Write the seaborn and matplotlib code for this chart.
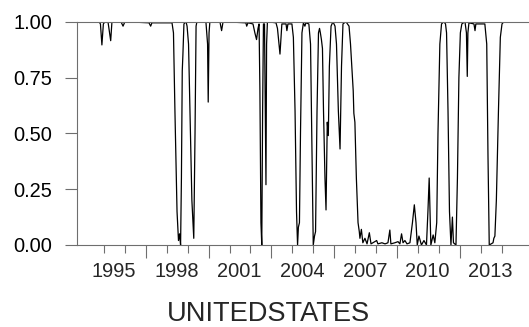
import matplotlib
matplotlib.use("Agg")
import matplotlib.pyplot as plt
import seaborn as sns
import pandas as pd

# smoothed regime probability (decimal years)
years = [1993.72, 1994.76, 1994.83, 1994.90, 1994.97, 1995.05, 1995.19, 1995.32, 1995.38,
         1995.81, 1995.91, 1996.00, 1997.15, 1997.23, 1997.29, 1998.25, 1998.32, 1998.39,
         1998.49, 1998.56, 1998.61, 1998.66, 1998.70, 1998.74, 1998.77, 1998.82, 1998.92,
         1998.97, 1999.04, 1999.11, 1999.20, 1999.29, 1999.35, 1999.40, 1999.44, 1999.87,
         1999.95, 1999.98, 2000.02, 2000.06, 2000.54, 2000.62, 2000.69, 2001.78, 2001.82,
         2001.88, 2002.12, 2002.21, 2002.29, 2002.36, 2002.41, 2002.45, 2002.50, 2002.54,
         2002.58, 2002.62, 2002.67, 2002.72, 2002.74, 2002.77, 2002.81, 2003.22, 2003.29,
         2003.36, 2003.41, 2003.46, 2003.50, 2003.70, 2003.74, 2003.79, 2003.98, 2004.05,
         2004.13, 2004.20, 2004.25, 2004.29, 2004.34, 2004.39, 2004.46, 2004.53, 2004.60,
         2004.65, 2004.79, 2004.87, 2004.94, 2005.00, 2005.06, 2005.11, 2005.18, 2005.25,
         2005.30, 2005.34, 2005.39, 2005.44, 2005.49, 2005.56, 2005.61, 2005.67, 2005.72,
         2005.77, 2005.85, 2005.94, 2006.04, 2006.11, 2006.20, 2006.28, 2006.35, 2006.42,
         2006.56, 2006.71, 2006.78, 2006.87, 2006.91, 2006.94, 2006.99, 2007.06, 2007.14,
         2007.20, 2007.23, 2007.30, 2007.37, 2007.47, 2007.57, 2007.68, 2007.76, 2007.85,
         2008.03, 2008.09, 2008.28, 2008.43, 2008.57, 2008.66, 2008.71, 2008.90, 2009.05,
         2009.14, 2009.22, 2009.29, 2009.38, 2009.48, 2009.62, 2009.74, 2009.83, 2009.91,
         2009.97, 2010.05, 2010.17, 2010.29, 2010.41, 2010.48, 2010.54, 2010.59, 2010.62,
         2010.73, 2010.81, 2010.90, 2010.96, 2011.05, 2011.13, 2011.24, 2011.32, 2011.37,
         2011.44, 2011.51, 2011.58, 2011.65, 2011.70, 2011.82, 2011.89, 2011.96, 2012.03,
         2012.10, 2012.25, 2012.32, 2012.36, 2012.39, 2012.44, 2012.68, 2012.73, 2012.77,
         2013.20, 2013.29, 2013.35, 2013.41, 2013.59, 2013.63, 2013.68, 2013.75, 2013.85,
         2013.94, 2014.02, 2014.11]
prob = [1.0, 1.0, 0.99, 0.896, 0.99, 1.0, 1.0, 0.915, 1.0,
        1.0, 0.98, 1.0, 0.995, 0.98, 0.995, 0.995, 0.95, 0.6,
        0.15, 0.02, 0.05, 0.0, 0.3, 0.78, 0.85, 0.99, 1.0,
        0.98, 0.9, 0.6, 0.2, 0.03, 0.5, 0.98, 1.0, 1.0,
        0.9, 0.64, 0.95, 1.0, 1.0, 0.96, 1.0, 0.995, 0.98,
        0.995, 0.99, 0.95, 0.92, 0.97, 0.99, 0.7, 0.1, 0.0,
        0.6, 0.99, 0.99, 0.5, 0.27, 0.9, 1.0, 0.995, 0.97,
        0.9, 0.855, 0.93, 0.99, 0.99, 0.96, 0.99, 0.99, 0.93,
        0.6, 0.15, 0.0, 0.08, 0.1, 0.5, 0.95, 0.995, 0.98,
        0.995, 0.99, 0.9, 0.4, 0.0, 0.04, 0.06, 0.6, 0.95,
        0.97, 0.95, 0.92, 0.88, 0.6, 0.3, 0.157, 0.55, 0.49,
        0.8, 0.98, 1.0, 0.98, 0.9, 0.6, 0.43, 0.8, 0.99,
        1.0, 0.98, 0.9, 0.75, 0.69, 0.59, 0.55, 0.3, 0.1,
        0.06, 0.03, 0.07, 0.01, 0.03, 0.005, 0.055, 0.005, 0.01,
        0.02, 0.005, 0.01, 0.005, 0.01, 0.067, 0.005, 0.01, 0.015,
        0.005, 0.05, 0.01, 0.02, 0.005, 0.01, 0.1, 0.18, 0.1,
        0.0, 0.04, 0.0, 0.02, 0.0, 0.15, 0.30, 0.12, 0.0,
        0.045, 0.01, 0.1, 0.5, 0.9, 0.99, 1.0, 0.99, 0.95,
        0.6, 0.15, 0.0, 0.125, 0.01, 0.0, 0.3, 0.75, 0.95,
        0.99, 1.0, 0.95, 0.755, 0.95, 0.995, 0.99, 0.96, 0.99,
        0.99, 0.9, 0.4, 0.0, 0.01, 0.03, 0.04, 0.2, 0.6,
        0.93, 0.99, 1.0]

label_years = [1995, 1998, 2001, 2004, 2007, 2010, 2013]
long_ticks = [1997, 2000, 2003, 2006, 2009, 2012]
year_ticks = list(range(1995, 2015))
y_ticks = [0.0, 0.25, 0.50, 0.75, 1.00]

df = pd.DataFrame({"year": years, "prob": prob})

sns.set_style("ticks")
plt.rcParams["font.family"] = ["Liberation Sans", "DejaVu Sans"]

frame = "#6e6e6e"
W, H = 529, 327
fig = plt.figure(figsize=(W / 100, H / 100), dpi=100)
ax = fig.add_axes([77 / W, 1 - 245 / H, 1 - 77 / W, (245 - 21.7) / H])

sns.lineplot(data=df, x="year", y="prob", ax=ax, color="black", linewidth=0.9)

ax.set_xlim(1993.71, 2015.31)
ax.set_ylim(0, 1)
ax.set_xlabel("")
ax.set_ylabel("")

for side in ["top", "left", "bottom"]:
    ax.spines[side].set_color(frame)
    ax.spines[side].set_linewidth(0.8)
ax.spines["right"].set_visible(False)

# y axis
ax.set_yticks(y_ticks)
ax.set_yticklabels([f"{v:.2f}" for v in y_ticks])
ax.tick_params(axis="y", length=9, width=0.8, color=frame, pad=9,
               labelsize=14.4, labelcolor="black")

# x axis: short ticks each year, long ticks every third year, labels mid-year
ax.set_xticks(long_ticks)
ax.set_xticklabels([])
ax.set_xticks(year_ticks, minor=True)
ax.tick_params(axis="x", which="major", length=9.4, width=0.8, color=frame)
ax.tick_params(axis="x", which="minor", length=5.4, width=0.8, color=frame)

sec = ax.secondary_xaxis("bottom")
sec.set_xticks([y + 0.47 for y in label_years], labels=[str(y) for y in label_years])
sec.tick_params(length=0, pad=12, labelsize=14.4)
sec.spines["bottom"].set_visible(False)

fig.text(268 / W, 1 - 321.3 / H, "UNITEDSTATES", ha="center", va="baseline",
         fontsize=19.6)

fig.savefig("out.png", dpi=100)
